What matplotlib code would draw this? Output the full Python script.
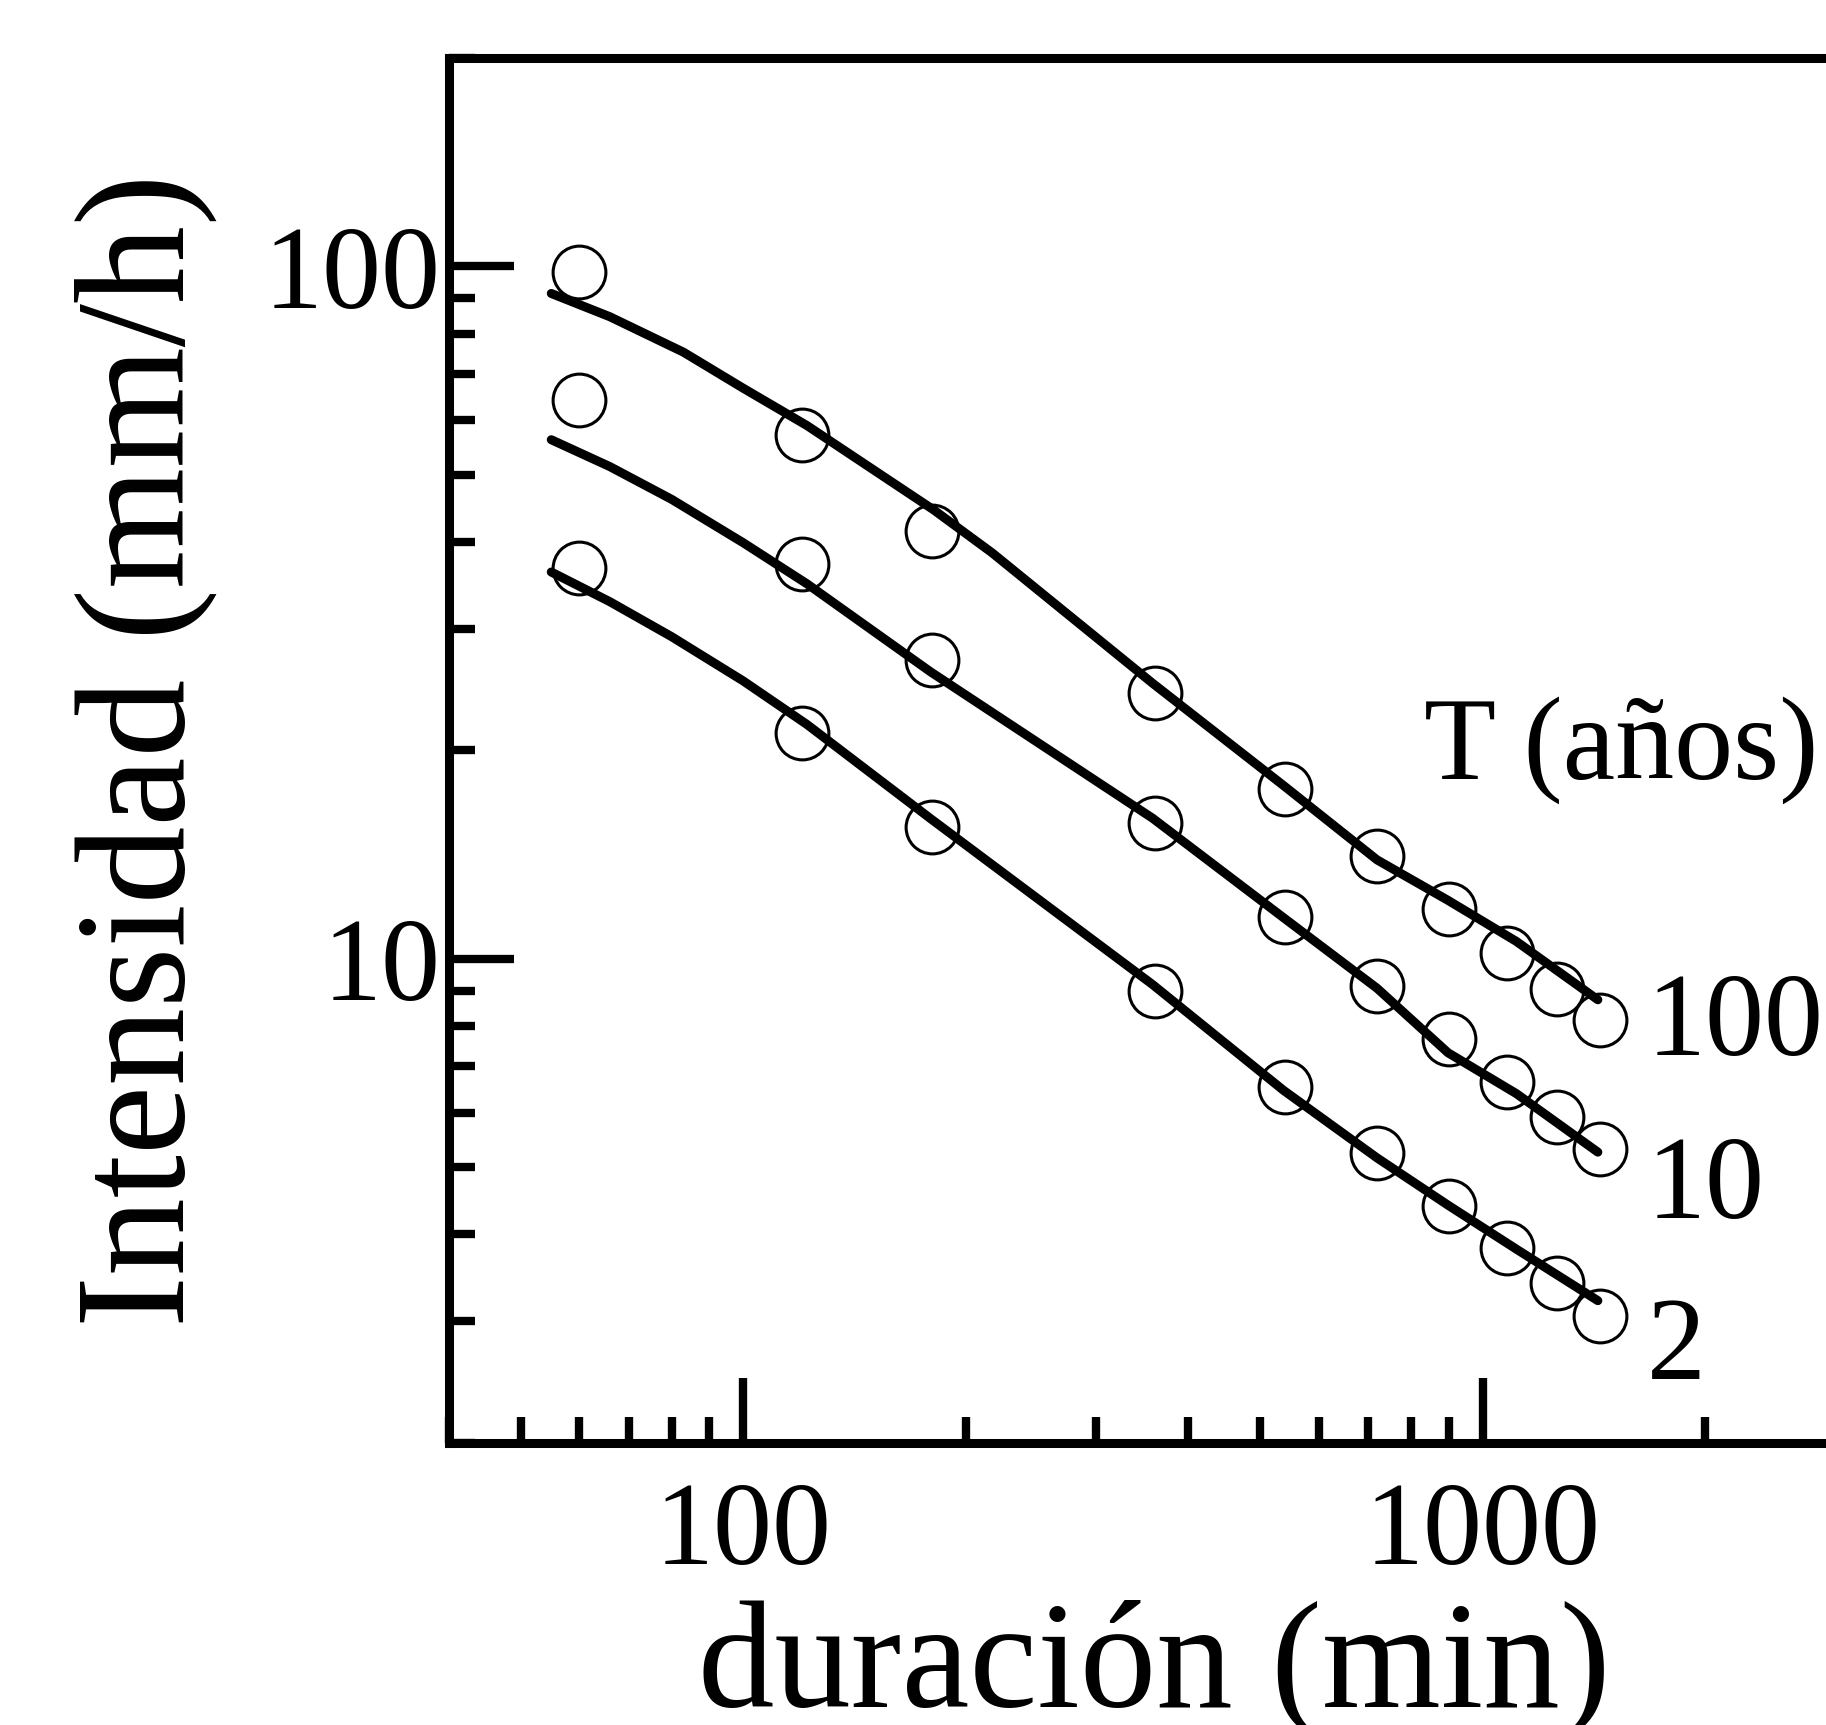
"""IDF curves (intensidad vs duracion) for three return periods."""

import matplotlib

matplotlib.use("Agg")
import matplotlib.pyplot as plt
from matplotlib import ticker

plt.rcParams["font.family"] = ["Liberation Serif", "DejaVu Serif"]

# observed points (min, mm/h)
durations = [60, 120, 180, 360, 540, 720, 900, 1080, 1260, 1440]
obs_t100 = [98.1, 57.1, 41.5, 24.2, 17.6, 14.1, 11.8, 10.2, 9.04, 8.17]
obs_t10 = [64.2, 37.2, 27.0, 15.7, 11.5, 9.15, 7.67, 6.64, 5.91, 5.32]
obs_t2 = [36.7, 21.2, 15.5, 9.0, 6.54, 5.24, 4.40, 3.82, 3.40, 3.05]

# fitted curves
fit_dur = [55, 66, 83, 100, 122, 181, 217, 358, 538, 720, 898, 1111, 1432]
fit_t100 = [91.4, 84.6, 75.2, 66.7, 58.9, 44.5, 38.6, 25.0, 17.8, 13.9, 12.15, 10.6, 8.73]
fit_dur_b = [55, 66, 80, 100, 122, 179, 358, 538, 720, 898, 1111, 1432]
fit_t10 = [56.2, 51.4, 46.1, 39.9, 34.8, 26.0, 15.96, 11.47, 9.07, 7.32, 6.39, 5.26]
fit_t2 = [36.2, 32.8, 29.2, 25.2, 21.8, 15.96, 9.18, 6.46, 5.16, 4.41, 3.81, 3.21]

period_labels = ["100", "10", "2"]

fig = plt.figure(figsize=(18.26, 17.25), dpi=100)
ax = fig.add_axes([0.2459, 0.1635, 0.7592, 0.8029])

line_kw = dict(color="black", lw=6.5, solid_capstyle="round", solid_joinstyle="round", zorder=3)
mark_kw = dict(ls="none", marker="o", ms=38, mfc="none", mec="black", mew=2.2, zorder=2)

ax.plot(fit_dur, fit_t100, **line_kw)
ax.plot(fit_dur_b, fit_t10, **line_kw)
ax.plot(fit_dur_b, fit_t2, **line_kw)
ax.plot(durations, obs_t100, **mark_kw)
ax.plot(durations, obs_t10, **mark_kw)
ax.plot(durations, obs_t2, **mark_kw)

ax.set_xscale("log")
ax.set_yscale("log")
ax.set_xlim(40, 3000)
ax.set_ylim(2, 200)

ax.xaxis.set_major_locator(ticker.FixedLocator([100, 1000]))
ax.yaxis.set_major_locator(ticker.FixedLocator([10, 100]))
fmt = ticker.FuncFormatter(lambda v, p: f"{v:g}")
ax.xaxis.set_major_formatter(fmt)
ax.yaxis.set_major_formatter(fmt)
ax.xaxis.set_minor_formatter(ticker.NullFormatter())
ax.yaxis.set_minor_formatter(ticker.NullFormatter())

ax.tick_params(which="both", direction="in", width=6, labelsize=85,
               top=False, right=False)
ax.tick_params(which="major", length=47)
ax.tick_params(which="minor", length=19)
ax.tick_params(axis="x", which="major", pad=28)
ax.tick_params(axis="y", which="major", pad=6)

for sp in ax.spines.values():
    sp.set_linewidth(6.5)

ax.set_xlabel("duración (min)", fontsize=110)
ax.xaxis.set_label_coords(0.509, -0.190)
ax.xaxis.label.set_va("baseline")
ax.set_ylabel("Intensidad (mm/h)", fontsize=112)
ax.yaxis.set_label_coords(-0.219, 0.5)
ax.yaxis.label.set_va("center")

ax.text(832, 18.2, "T (años)", fontsize=85, ha="left", va="baseline")
for lab, yy in zip(period_labels, [7.27, 4.23, 2.47]):
    ax.text(1667, yy, lab, fontsize=85, ha="left", va="baseline")

fig.savefig("out.png", dpi=100)
